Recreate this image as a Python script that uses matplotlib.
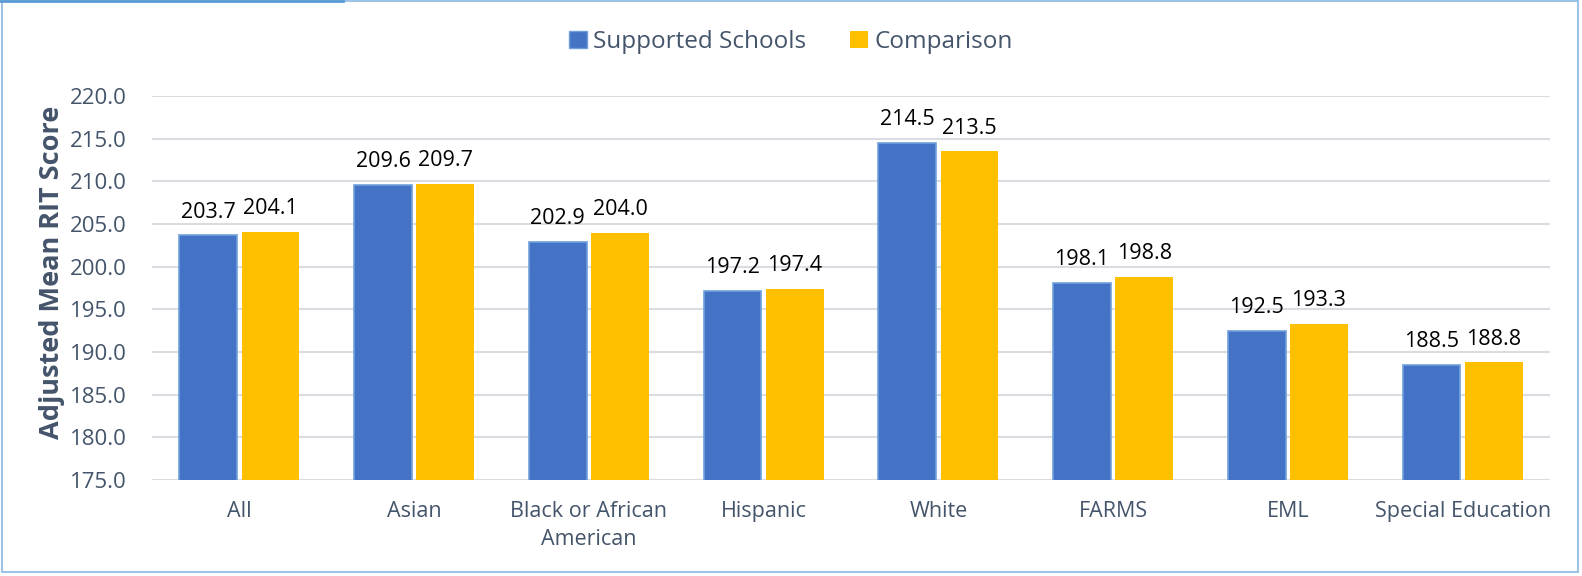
import numpy as np
import matplotlib
matplotlib.use("Agg")
import matplotlib.pyplot as plt
from matplotlib.patches import Rectangle
from matplotlib.lines import Line2D

categories = ["All", "Asian", "Black or African\nAmerican", "Hispanic", "White",
              "FARMS", "EML", "Special Education"]
supported = [203.7, 209.6, 202.9, 197.2, 214.5, 198.1, 192.5, 188.5]
comparison = [204.1, 209.7, 204.0, 197.4, 213.5, 198.8, 193.3, 188.8]
yticks = [175.0, 180.0, 185.0, 190.0, 195.0, 200.0, 205.0, 210.0, 215.0, 220.0]

plt.rcParams['font.family'] = ['Open Sans', 'DejaVu Sans']
text_col = '#44546A'
blue = '#4472C4'
gold = '#FFC000'

fig = plt.figure(figsize=(15.82, 5.76), dpi=100)
ax = fig.add_axes([152 / 1582, 1 - 480 / 576, 1398 / 1582, 384 / 576])

x = np.arange(len(categories))
w = 0.33
off = 0.178
b1 = ax.bar(x - off, supported, w, color=blue, edgecolor='#6FA0DC',
            linewidth=1.2, label='Supported Schools', zorder=3)
b2 = ax.bar(x + off, comparison, w, color=gold, label='Comparison', zorder=3)

for bars, vals in ((b1, supported), (b2, comparison)):
    for r, v in zip(bars, vals):
        ax.annotate(f"{v:.1f}", (r.get_x() + r.get_width() / 2, v),
                    xytext=(0, 9), textcoords='offset points',
                    ha='center', va='bottom', fontsize=15.5, color='black')

ax.set_ylim(175, 220)
ax.set_xlim(-0.5, len(categories) - 0.5)
ax.set_yticks(yticks)
ax.set_yticklabels([f"{t:.1f}" for t in yticks], fontsize=16)
ax.set_xticks(x)
ax.set_xticklabels(categories, linespacing=1.45, fontsize=15.5)
ax.tick_params(axis='both', length=0, labelcolor=text_col)
ax.tick_params(axis='y', pad=18)
ax.tick_params(axis='x', pad=15)
ax.grid(axis='y', color='#D9DDE3', linewidth=1.5, zorder=0)
for s in ax.spines.values():
    s.set_visible(False)

ax.set_ylabel("Adjusted Mean RIT Score", fontsize=19.5, fontweight='bold',
              color=text_col)
ax.yaxis.set_label_coords(-0.062, 0.54)

fig.legend(handles=[Rectangle((0, 0), 1, 1, facecolor=blue, edgecolor='#6FA0DC'),
                    Rectangle((0, 0), 1, 1, facecolor=gold)],
           labels=['Supported Schools', 'Comparison'],
           loc='center', bbox_to_anchor=(0.5, 1 - 42 / 576), ncol=2,
           frameon=False, fontsize=17.5, labelcolor=text_col,
           handlelength=0.75, handleheight=0.75, handletextpad=0.25, columnspacing=1.8)

# chart border
fig.add_artist(Rectangle((2 / 1582, 4 / 576), 1576 / 1582, 571 / 576,
                         transform=fig.transFigure, fill=False,
                         edgecolor='#9DC3E6', linewidth=1.5))
fig.add_artist(Line2D([0, 343 / 1582], [1 - 1 / 576, 1 - 1 / 576],
                      transform=fig.transFigure, color='#5B9BD5', linewidth=2))

fig.savefig("out.png", dpi=100)
